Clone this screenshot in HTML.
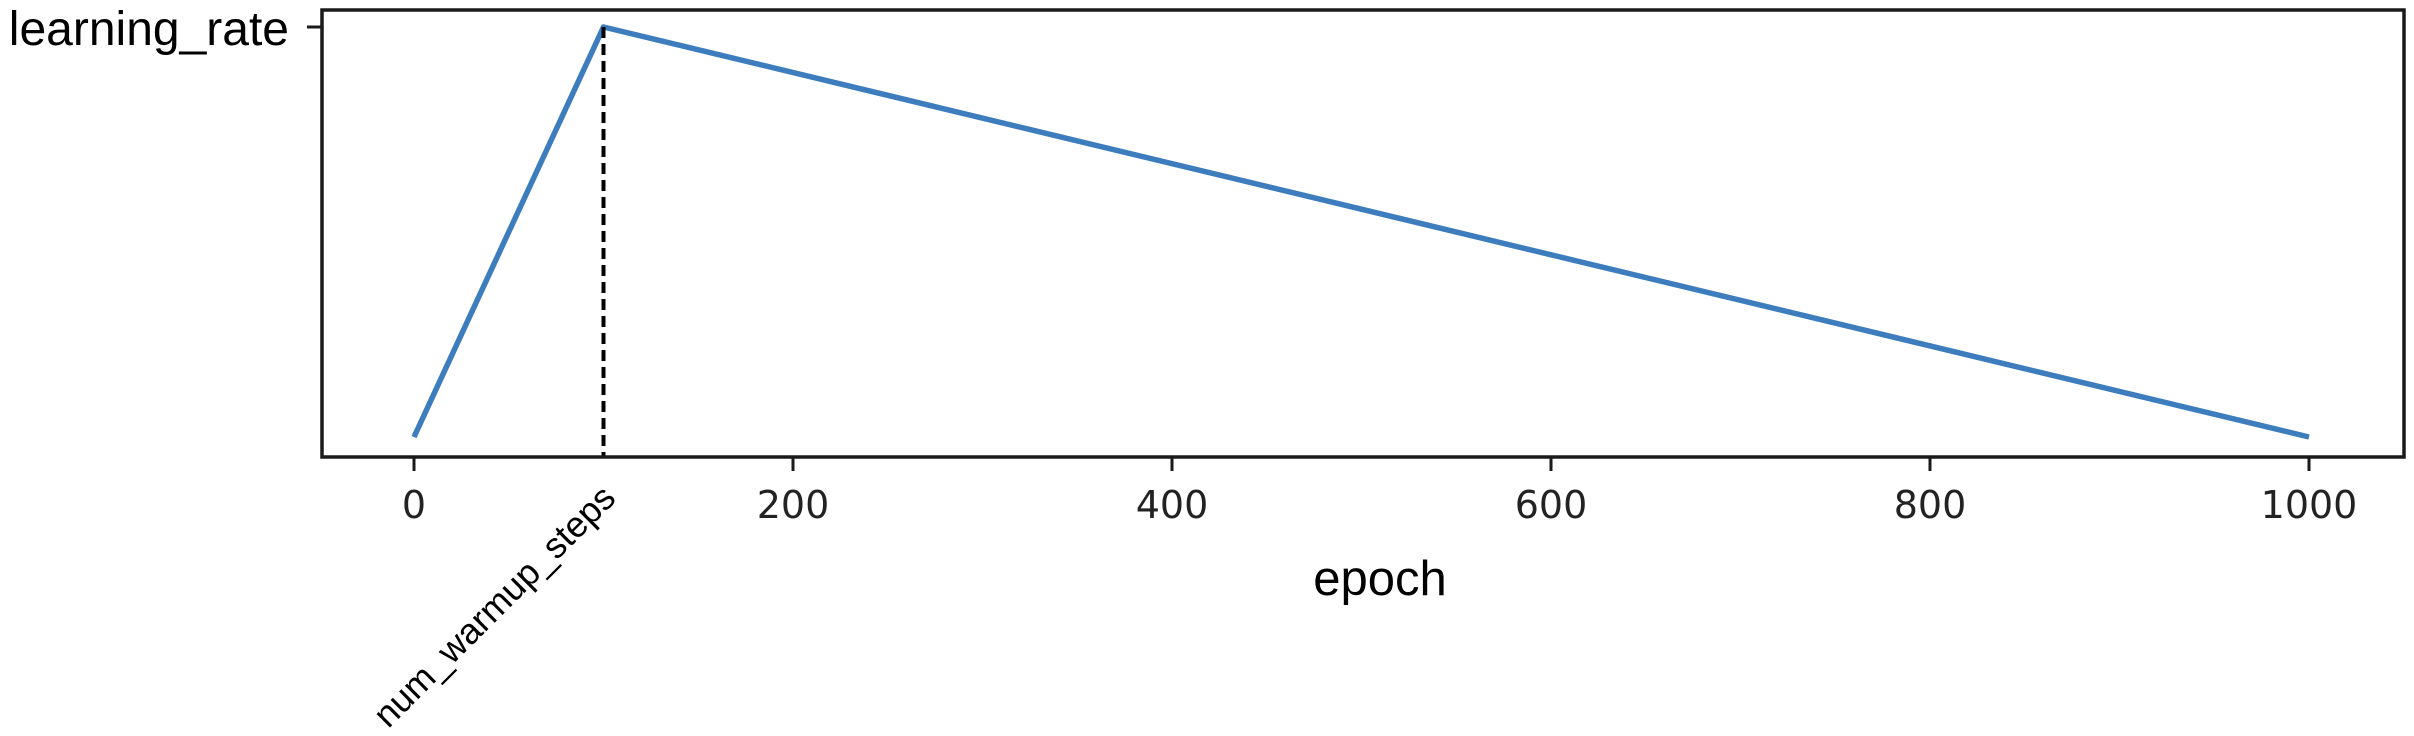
<!DOCTYPE html>
<html><head><meta charset="utf-8"><style>
html,body{margin:0;padding:0;background:#fff;}
svg{display:block;}
</style></head><body>
<svg id="chart" width="2414" height="736" viewBox="0 0 2414 736" xmlns="http://www.w3.org/2000/svg">
<g id="plot"></g>
</svg>
<script>
const epochs = [0, 100, 1000];
const lrValues = [0, 1, 0];
const xTicks = [0, 200, 400, 600, 800, 1000];
const xTickLabels = ["0", "200", "400", "600", "800", "1000"];
const warmupSteps = [100];

const NS = "http://www.w3.org/2000/svg";
const g = document.getElementById("plot");
const L = 322, R = 2404, T = 10, B = 457;
function xs(v){ return 414 + v * 1.895; }
function ys(v){ return 437 - v * 410; }
function mk(tag, attrs){ const e = document.createElementNS(NS, tag); for (const k in attrs) e.setAttribute(k, attrs[k]); g.appendChild(e); return e; }

let d = "";
epochs.forEach((e, i) => { d += (i ? "L" : "M") + xs(e) + "," + ys(lrValues[i]); });
const line = mk("path", {d: d, fill: "none", stroke: "#3d7dbd", "stroke-width": 5.5, "stroke-linejoin": "round"});



warmupSteps.forEach(w => {
  const dl = mk("line", {x1: xs(w), x2: xs(w), y1: ys(1), y2: B, stroke: "#000", "stroke-width": 4, "stroke-dasharray": "11,6"});
  
  
});

const fr = mk("rect", {x: L, y: T, width: R - L, height: B - T, fill: "none", stroke: "#1a1a1a", "stroke-width": 3.5});



xTicks.forEach((t, i) => {
  const tk = mk("line", {x1: xs(t), x2: xs(t), y1: B, y2: B + 14, stroke: "#1a1a1a", "stroke-width": 3});
  
  
  const tl = mk("text", {x: xs(t), y: 518, "text-anchor": "middle", "font-family": "DejaVu Sans, sans-serif", "font-size": 38, fill: "#222"});
  tl.textContent = xTickLabels[i];
  
  
});

const yt = mk("line", {x1: L - 15, x2: L, y1: ys(1), y2: ys(1), stroke: "#1a1a1a", "stroke-width": 3});


const yl = mk("text", {x: 289, y: 45, "text-anchor": "end", "font-family": "Liberation Sans, sans-serif", "font-size": 48, fill: "#000"});
yl.textContent = "learning_rate";



const wl = mk("text", {x: 0, y: 0, "text-anchor": "end", "font-family": "Liberation Sans, sans-serif", "font-size": 36, fill: "#000", transform: "translate(" + (xs(warmupSteps[0]) + 14) + ",500) rotate(-45)"});
wl.textContent = "num_warmup_steps";



const xt = mk("text", {x: 1380, y: 595, "text-anchor": "middle", "font-family": "Liberation Sans, sans-serif", "font-size": 49, fill: "#000"});
xt.textContent = "epoch";


</script>
</body></html>
